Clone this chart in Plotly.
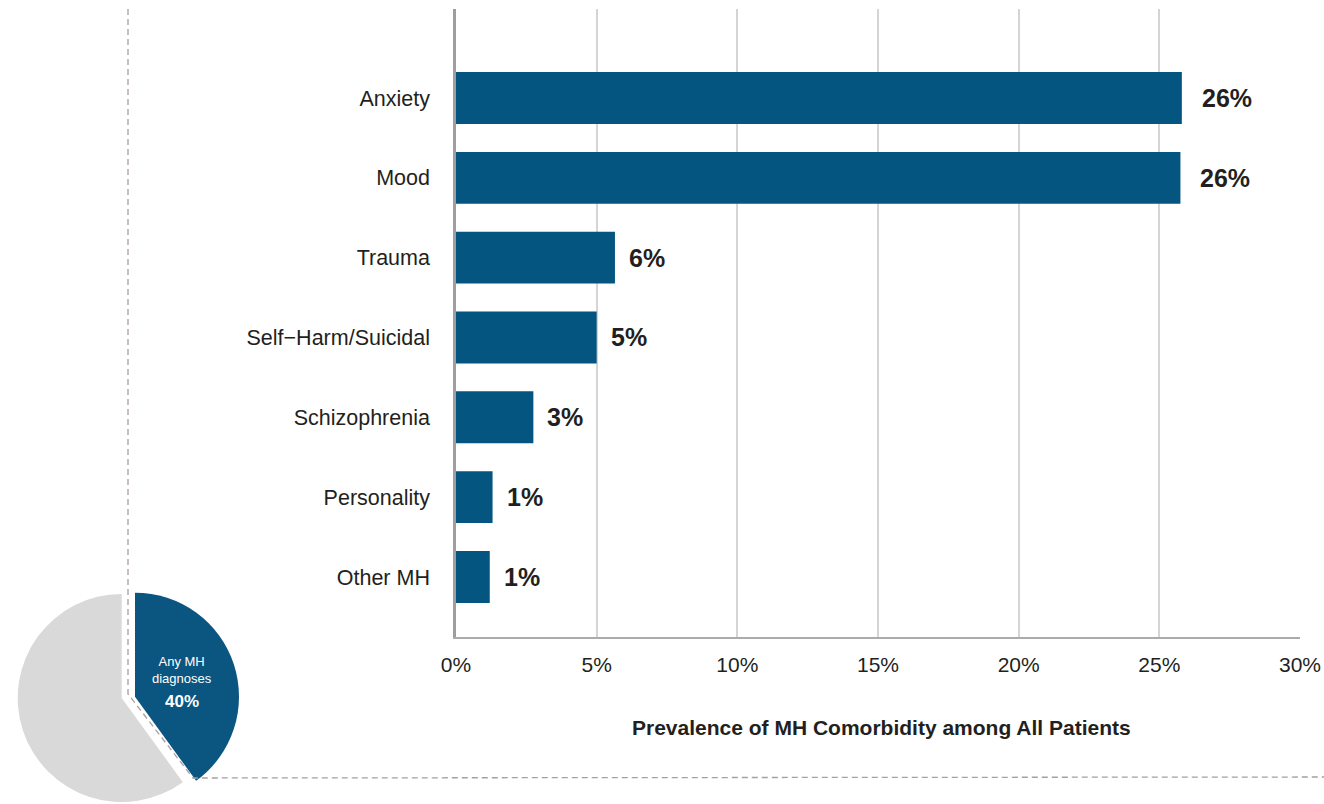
import plotly.graph_objects as go

# Mental-health comorbidity categories and prevalence (% of all patients)
categories = ["Anxiety", "Mood", "Trauma", "Self\u2212Harm/Suicidal",
              "Schizophrenia", "Personality", "Other MH"]
prevalence = [25.8, 25.75, 5.65, 5.0, 2.75, 1.3, 1.2]

# Share of patients with any MH diagnosis
pie_labels = ["Any MH diagnoses", "No MH diagnoses"]
pie_values = [40, 60]

x_ticks = [0, 5, 10, 15, 20, 25, 30]
x_tick_text = [f"{t}%" for t in x_ticks]
x_title = "Prevalence of MH Comorbidity among All Patients"

W, H = 1324, 804
BLUE = "#04557f"
PIE_BLUE = "#0b5581"
GREY = "#d9d9d9"
TEXT = "#231f20"
FONT = "Liberation Sans, Arial, sans-serif"


def px(x):
    return x / W


def py(y):
    return 1 - y / H


fig = go.Figure()

fig.add_trace(go.Bar(
    x=prevalence, y=categories, orientation="h",
    marker=dict(color=BLUE, line=dict(width=0)),
    width=0.65, hoverinfo="x+y",
))

# Pie: each slice in its own trace so the highlighted slice can sit offset
r = 104
gx, gy = 121.7, 698.0      # centre of the grey slice
bx, by = 135.0, 696.7      # centre of the offset blue slice
fig.add_trace(go.Pie(
    values=pie_values, labels=pie_labels, sort=False,
    direction="clockwise", rotation=0,
    marker=dict(colors=["rgba(0,0,0,0)", GREY], line=dict(width=0)),
    textinfo="none", hoverinfo="skip", automargin=False,
    domain=dict(x=[px(gx - r), px(gx + r)], y=[py(gy + r), py(gy - r)]),
))
fig.add_trace(go.Pie(
    values=pie_values, labels=pie_labels, sort=False,
    direction="clockwise", rotation=0,
    marker=dict(colors=[PIE_BLUE, "rgba(0,0,0,0)"], line=dict(width=0)),
    textinfo="none", hoverinfo="label+percent", automargin=False,
    domain=dict(x=[px(bx - r), px(bx + r)], y=[py(by + r), py(by - r)]),
))

annotations = []
# Value labels beside each bar
for cat, v in zip(categories, prevalence):
    label = f"{v:.0f}%"
    annotations.append(dict(
        x=v, y=cat, xref="x", yref="y", text=f"<b>{label}</b>",
        showarrow=False, xanchor="left", yanchor="middle",
        xshift=6 * len(label),
        font=dict(family=FONT, size=25, color=TEXT),
    ))

# Label inside the highlighted slice
annotations.append(dict(
    x=px(182), y=py(670), xref="paper", yref="paper",
    text="Any MH<br>diagnoses", showarrow=False,
    xanchor="center", yanchor="middle",
    font=dict(family=FONT, size=13, color="white"),
))
annotations.append(dict(
    x=px(182), y=py(701), xref="paper", yref="paper",
    text=f"<b>{pie_values[0]}%</b>", showarrow=False,
    xanchor="center", yanchor="middle",
    font=dict(family=FONT, size=17, color="white"),
))

# Axis title
annotations.append(dict(
    x=px(882), y=py(727), xref="paper", yref="paper",
    text=f"<b>{x_title}</b>", showarrow=False,
    xanchor="center", yanchor="middle",
    font=dict(family=FONT, size=21, color=TEXT),
))

# Dashed connector from the pie slice to the bar panel
path = (f"M {px(128)} {py(9)} L {px(128)} {py(694)} "
        f"L {px(193)} {py(778)} L {px(1324)} {py(777)}")
shapes = [dict(
    type="path", xref="paper", yref="paper", path=path,
    line=dict(color="#a89ea3", width=1.3, dash="6px,4px"),
    layer="above",
)]

fig.update_layout(
    width=W, height=H,
    margin=dict(l=0, r=0, t=0, b=0, pad=0, autoexpand=False),
    paper_bgcolor="white", plot_bgcolor="white",
    showlegend=False,
    font=dict(family=FONT, color=TEXT),
    annotations=annotations, shapes=shapes,
    xaxis=dict(
        domain=[px(456), px(1300)], range=[0, 30],
        tickmode="array", tickvals=x_ticks, ticktext=x_tick_text,
        showgrid=True, gridcolor="#d5d5d5", gridwidth=1.5,
        zeroline=False, showline=True, linecolor="#ababab", linewidth=2,
        ticks="", ticklabelstandoff=8, automargin=False,
        tickfont=dict(family=FONT, size=21, color=TEXT),
        fixedrange=True,
    ),
    yaxis=dict(
        domain=[py(637), py(9)], type="category",
        categoryorder="array", categoryarray=categories,
        range=[6.752, -1.115],
        showgrid=False, zeroline=False,
        showline=True, linecolor="#9e9e9e", linewidth=2.5,
        ticks="", ticklabelstandoff=19, automargin=False,
        tickfont=dict(family=FONT, size=21.5, color=TEXT),
        fixedrange=True,
    ),
)

fig.write_html("out.html")
